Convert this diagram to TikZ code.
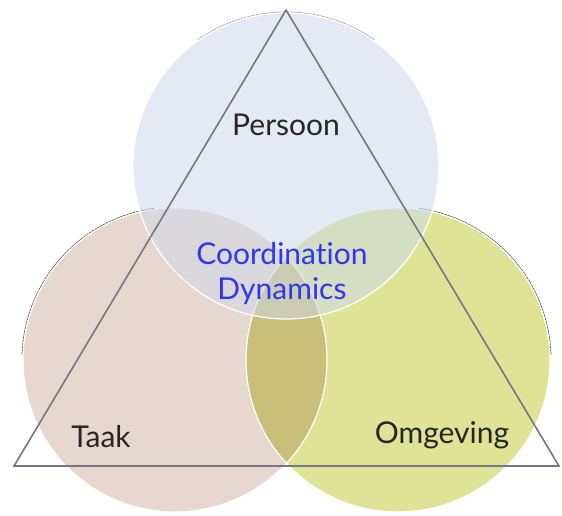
\documentclass[tikz,border=0pt]{standalone}
\usepackage{fontspec}
\setmainfont[Ligatures=NoCommon]{Lato}
\begin{document}
\begin{tikzpicture}[x=1pt,y=-1pt,
  rim/.style={draw=black!60, line width=1pt, dash pattern=on 2.5pt off 0.7pt},
  edge/.style={draw=triline, line width=1.6pt, line join=miter},
  lbl/.style={font=\fontsize{30}{34}\selectfont, text=black!85},
  core/.style={font=\fontsize{30}{35}\selectfont, text=coreblue, align=center}]
\definecolor{pinkc}{RGB}{232,215,207}
\definecolor{olivec}{RGB}{222,227,150}
\definecolor{bluec}{RGB}{207,216,233}
\definecolor{triline}{RGB}{118,118,138}
\definecolor{coreblue}{RGB}{45,55,240}
\useasboundingbox (0,0) rectangle (562,516);
\fill[white] (0,0) rectangle (562,516);
% faint shadow rims on the outer side of the circles
\draw[rim] (175,360) ++(262:153) arc[start angle=262, end angle=182, radius=153];
\draw[rim] (398,360) ++(278:153) arc[start angle=278, end angle=358, radius=153];
\draw[rim, draw=black!35] (286,166) ++(235:154) arc[start angle=235, end angle=305, radius=154];
% the lower two circles multiply where they overlap
\begin{scope}[transparency group]
  \begin{scope}[blend mode=multiply]
    \path[fill=pinkc] (175,360) circle[radius=152];
    \path[fill=olivec] (398,360) circle[radius=152];
  \end{scope}
\end{scope}
\draw[white, line width=1.2pt] (175,360) circle[radius=152];
\draw[white, line width=1.2pt] (398,360) circle[radius=152];
% the upper circle is laid over them, half transparent
\path[fill=bluec, fill opacity=0.54] (286,166) circle[radius=153];
\draw[white, line width=1.2pt] (286,166) circle[radius=153];
% triangle
\coordinate (apex) at (286,10);
\coordinate (bl) at (14,466);
\coordinate (br) at (559,466);
\draw[edge] (apex) -- (bl) -- (br) -- cycle;
% labels
\node[lbl] (persoon) at (286,125) {Persoon};
\node[lbl] (taak) at (101,437) {Taak};
\node[lbl] (omgeving) at (442,435) {Omgeving};
\node[core] (cd) at (282,274) {Coordination\\Dynamics};
\end{tikzpicture}
\end{document}
